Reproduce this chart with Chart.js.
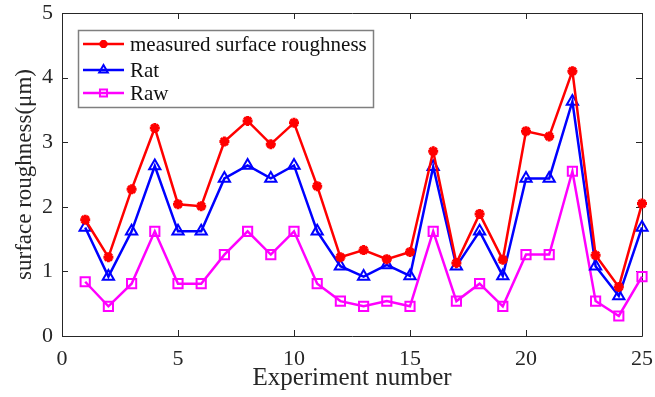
<!DOCTYPE html>
<html>
<head>
<meta charset="utf-8">
<script src="https://cdn.jsdelivr.net/npm/chart.js@4/dist/chart.umd.min.js"></script>
<style>
  html, body { margin: 0; padding: 0; background: #fff; }
  #wrap { width: 655px; height: 397px; }
</style>
</head>
<body>
<div id="wrap"><canvas id="chart" width="655" height="397"></canvas></div>
<script>
'use strict';

// data
var experiments = [1, 2, 3, 4, 5, 6, 7, 8, 9, 10, 11, 12, 13, 14, 15, 16, 17, 18, 19, 20, 21, 22, 23, 24, 25]
var measured = [1.80, 1.22, 2.27, 3.22, 2.04, 2.01, 3.01, 3.33, 2.97, 3.30, 2.32, 1.22, 1.33, 1.19, 1.30, 2.86, 1.13, 1.89, 1.18, 3.17, 3.09, 4.10, 1.25, 0.76, 2.05]
var rat = [1.68, 0.92, 1.62, 2.63, 1.62, 1.62, 2.44, 2.64, 2.44, 2.64, 1.62, 1.08, 0.92, 1.10, 0.93, 2.62, 1.08, 1.62, 0.93, 2.44, 2.44, 3.63, 1.08, 0.62, 1.68]
var raw = [0.84, 0.46, 0.81, 1.62, 0.81, 0.81, 1.26, 1.62, 1.26, 1.62, 0.81, 0.54, 0.46, 0.54, 0.46, 1.62, 0.54, 0.81, 0.46, 1.26, 1.26, 2.55, 0.54, 0.31, 0.92]
var seriesNames = ['measured surface roughness', 'Rat', 'Raw']
var xTicks = [0, 5, 10, 15, 20, 25]
var yTicks = [0, 1, 2, 3, 4, 5]

var axisColor = '#262626'
var fontName = '"Liberation Serif", "Times New Roman", serif'

function toPoints(vals){
    return vals.map(function(v, i){ return {x: experiments[i], y: v} })
}

// frame on all four sides with inward ticks, like the original figure
var framePlugin = {
    id: 'frame',
    beforeDatasetsDraw: function(chart){
        let ctx = chart.ctx
        let a = chart.chartArea
        let sx = chart.scales.x
        let sy = chart.scales.y
        let tl = 6
        ctx.save()
        ctx.strokeStyle = axisColor
        ctx.lineWidth = 1
        ctx.beginPath()
        ctx.rect(Math.round(a.left) + 0.5, Math.round(a.top) + 0.5, Math.round(a.right - a.left), Math.round(a.bottom - a.top))
        for(let i = 0; i < xTicks.length; i++){
            let px = Math.round(sx.getPixelForValue(xTicks[i])) + 0.5
            ctx.moveTo(px, a.bottom); ctx.lineTo(px, a.bottom - tl)
            ctx.moveTo(px, a.top); ctx.lineTo(px, a.top + tl)
        }
        for(let i = 0; i < yTicks.length; i++){
            let py = Math.round(sy.getPixelForValue(yTicks[i])) + 0.5
            ctx.moveTo(a.left, py); ctx.lineTo(a.left + tl, py)
            ctx.moveTo(a.right, py); ctx.lineTo(a.right - tl, py)
        }
        ctx.stroke()
        ctx.restore()
    }
}

// legend box inside the plot, top left
var legendPlugin = {
    id: 'boxLegend',
    afterDraw: function(chart){
        let ctx = chart.ctx
        let bx = 78, by = 30, bw = 295, bh = 77
        ctx.save()
        ctx.fillStyle = '#ffffff'
        ctx.fillRect(bx, by, bw, bh)
        ctx.strokeStyle = '#7f7f7f'
        ctx.lineWidth = 1.5
        ctx.strokeRect(bx + 0.5, by + 0.5, bw, bh)
        let rows = [44, 70, 93]
        chart.data.datasets.forEach(function(ds, i){
            let y = rows[i]
            ctx.strokeStyle = ds.borderColor
            ctx.lineWidth = ds.borderWidth
            ctx.beginPath()
            ctx.moveTo(83, y); ctx.lineTo(124, y)
            ctx.stroke()
            ctx.fillStyle = ds.pointBackgroundColor
            ctx.strokeStyle = ds.pointBorderColor
            ctx.lineWidth = ds.pointBorderWidth
            Chart.helpers.drawPoint(ctx, {
                pointStyle: ds.pointStyle,
                radius: ds.legendRadius,
                borderWidth: ds.pointBorderWidth,
                rotation: 0
            }, 103.5, y)
            ctx.fillStyle = '#111111'
            ctx.font = '21px ' + fontName
            ctx.textBaseline = 'middle'
            ctx.fillText(ds.label, 130, y + 1)
        })
        ctx.restore()
    }
}

var config = {
    type: 'line',
    data: {
        datasets: [
            {
                label: seriesNames[0],
                data: toPoints(measured),
                borderColor: '#ff0000',
                backgroundColor: '#ff0000',
                borderWidth: 2.5,
                clip: false,
                pointStyle: 'star',
                pointRadius: 5,
                legendRadius: 4,
                pointBorderWidth: 3,
                pointBackgroundColor: '#ff0000',
                pointBorderColor: '#ff0000'
            },
            {
                label: seriesNames[1],
                data: toPoints(rat),
                borderColor: '#0000ff',
                backgroundColor: 'rgba(0,0,0,0)',
                borderWidth: 2.5,
                clip: false,
                pointStyle: 'triangle',
                pointRadius: 6.5,
                legendRadius: 5,
                pointBorderWidth: 2,
                pointBackgroundColor: 'rgba(0,0,0,0)',
                pointBorderColor: '#0000ff'
            },
            {
                label: seriesNames[2],
                data: toPoints(raw),
                borderColor: '#ff00ff',
                backgroundColor: 'rgba(0,0,0,0)',
                borderWidth: 2.5,
                clip: false,
                pointStyle: 'rect',
                pointRadius: 6.5,
                legendRadius: 5,
                pointBorderWidth: 2,
                pointBackgroundColor: 'rgba(0,0,0,0)',
                pointBorderColor: '#ff00ff'
            }
        ]
    },
    options: {
        responsive: false,
        animation: false,
        tension: 0,
        layout: { padding: { top: 13, right: 13, left: 0, bottom: 0 } },
        plugins: {
            legend: { display: false },
            tooltip: { enabled: false }
        },
        scales: {
            x: {
                type: 'linear',
                min: 0,
                max: 25,
                afterBuildTicks: function(scale){ scale.ticks = xTicks.map(function(v){ return {value: v} }) },
                afterFit: function(scale){
                    scale.height = 61
                    scale.paddingLeft = 0
                    scale.paddingRight = 0
                },
                grid: { display: false, drawTicks: false },
                border: { display: false },
                ticks: {
                    color: axisColor,
                    padding: 10,
                    font: { family: fontName, size: 22 },
                    maxRotation: 0
                },
                title: {
                    display: true,
                    text: 'Experiment number',
                    color: axisColor,
                    padding: { top: 0, bottom: 4 },
                    font: { family: fontName, size: 25 }
                }
            },
            y: {
                min: 0,
                max: 5,
                afterBuildTicks: function(scale){ scale.ticks = yTicks.map(function(v){ return {value: v} }) },
                afterFit: function(scale){
                    scale.width = 62
                    scale.paddingTop = 0
                    scale.paddingBottom = 0
                },
                grid: { display: false, drawTicks: false },
                border: { display: false },
                ticks: {
                    color: axisColor,
                    padding: 9,
                    font: { family: fontName, size: 22 }
                },
                title: {
                    display: true,
                    text: 'surface roughness(μm)',
                    color: axisColor,
                    padding: { top: 11, bottom: 0 },
                    font: { family: fontName, size: 23 }
                }
            }
        }
    },
    plugins: [framePlugin, legendPlugin]
}

new Chart(document.getElementById('chart'), config)
</script>
</body>
</html>
